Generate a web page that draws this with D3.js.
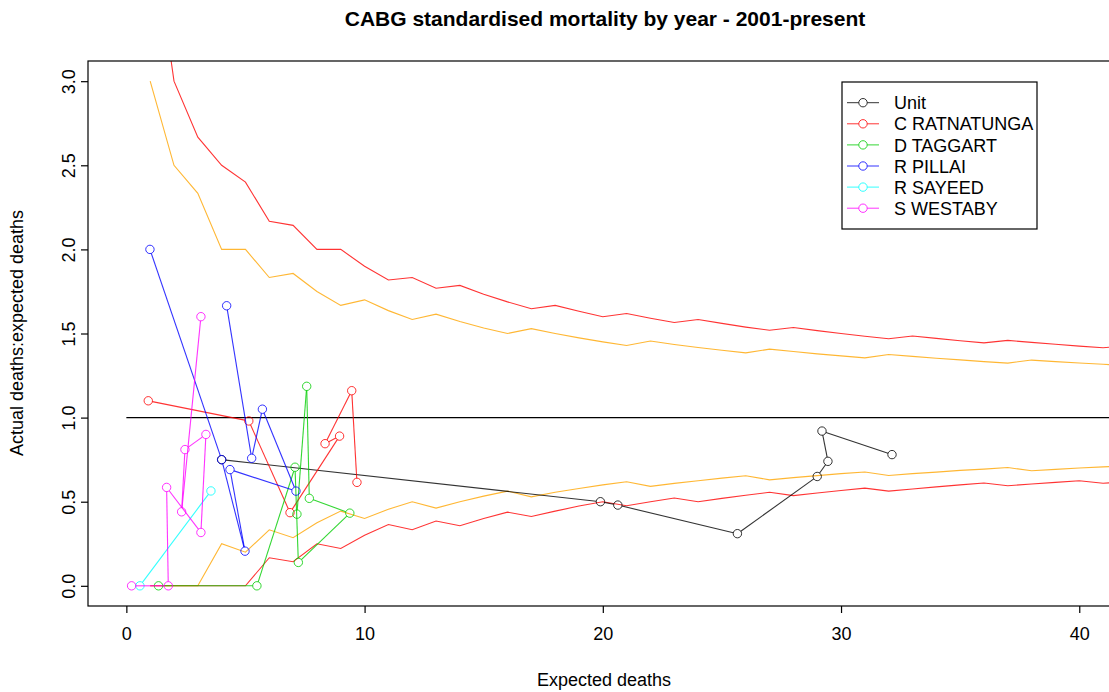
<!DOCTYPE html>
<html>
<head>
<meta charset="utf-8">
<script src="https://cdn.jsdelivr.net/npm/d3@7"></script>
<style>
  body { margin: 0; background: #fff; }
  text { font-family: "Liberation Sans", Arial, Helvetica, sans-serif; fill: #000; }
</style>
</head>
<body>
<div id="chart"></div>
<script>
// control limits, evaluated at whole numbers of expected deaths
const limitX = [1, 2, 3, 4, 5, 6, 7, 8, 9, 10, 11, 12, 13, 14, 15, 16, 17, 18, 19, 20, 21,
  22, 23, 24, 25, 26, 27, 28, 29, 30, 31, 32, 33, 34, 35, 36, 37, 38, 39, 40, 41, 42];
const upper99 = [4.0, 3.0, 2.667, 2.5, 2.4, 2.167, 2.143, 2.0, 2.0, 1.9, 1.818, 1.833, 1.769, 1.786,
  1.733, 1.688, 1.647, 1.667, 1.632, 1.6, 1.619, 1.591, 1.565, 1.583, 1.56, 1.538, 1.519, 1.536,
  1.517, 1.5, 1.484, 1.469, 1.485, 1.471, 1.457, 1.444, 1.459, 1.447, 1.436, 1.425, 1.415, 1.429];
const upper95 = [3.0, 2.5, 2.333, 2.0, 2.0, 1.833, 1.857, 1.75, 1.667, 1.7, 1.636, 1.583, 1.615, 1.571,
  1.533, 1.5, 1.529, 1.5, 1.474, 1.45, 1.429, 1.455, 1.435, 1.417, 1.4, 1.385, 1.407, 1.393,
  1.379, 1.367, 1.355, 1.375, 1.364, 1.353, 1.343, 1.333, 1.324, 1.342, 1.333, 1.325, 1.317, 1.310];
const lower95 = [0, 0, 0, 0.25, 0.2, 0.333, 0.286, 0.375, 0.444, 0.4, 0.455, 0.5, 0.462, 0.5,
  0.533, 0.563, 0.529, 0.556, 0.579, 0.6, 0.619, 0.591, 0.609, 0.625, 0.64, 0.654, 0.630, 0.643,
  0.655, 0.667, 0.677, 0.656, 0.667, 0.676, 0.686, 0.694, 0.703, 0.684, 0.692, 0.7, 0.707, 0.714];
const lower99 = [0, 0, 0, 0, 0, 0.167, 0.143, 0.25, 0.222, 0.3, 0.364, 0.333, 0.385, 0.357,
  0.4, 0.438, 0.412, 0.444, 0.474, 0.5, 0.476, 0.5, 0.522, 0.5, 0.52, 0.538, 0.556, 0.536,
  0.552, 0.567, 0.581, 0.563, 0.576, 0.588, 0.6, 0.611, 0.595, 0.605, 0.615, 0.625, 0.610, 0.619];

// one point per year: expected deaths (x) and actual:expected ratio (y)
const unitExpected = [4.0, 19.9, 20.63, 25.65, 29.0, 29.45, 29.2, 32.14];
const unitRatio = [0.75, 0.50, 0.48, 0.31, 0.65, 0.74, 0.92, 0.78];
const ratnatungaExpected = [0.92, 5.14, 6.87, 8.95, 8.34, 9.46, 9.68];
const ratnatungaRatio = [1.10, 0.98, 0.435, 0.89, 0.845, 1.16, 0.615];
const taggartExpected = [1.35, 5.48, 7.08, 7.22, 9.38, 7.68, 7.57, 7.16];
const taggartRatio = [0, 0, 0.705, 0.139, 0.432, 0.52, 1.186, 0.426];
const pillaiExpected = [0.99, 4.0, 4.98, 4.35, 7.12, 5.71, 5.26, 4.21];
const pillaiRatio = [2.0, 0.75, 0.206, 0.691, 0.563, 1.05, 0.758, 1.665];
const sayeedExpected = [0.57, 3.55];
const sayeedRatio = [0, 0.564];
const westabyExpected = [0.22, 1.76, 1.69, 3.13, 3.34, 2.46, 2.32, 3.13];
const westabyRatio = [0, 0, 0.585, 0.317, 0.90, 0.81, 0.44, 1.6];

const seriesNames = ["Unit", "C RATNATUNGA", "D TAGGART", "R PILLAI", "R SAYEED", "S WESTABY"];
const seriesColours = ["#000000", "#ff0000", "#00cd00", "#0000ff", "#00ffff", "#ff00ff"];
const xTicks = [0, 10, 20, 30, 40];
const yTicks = [0, 0.5, 1, 1.5, 2, 2.5, 3];

const series = [
  [unitExpected, unitRatio],
  [ratnatungaExpected, ratnatungaRatio],
  [taggartExpected, taggartRatio],
  [pillaiExpected, pillaiRatio],
  [sayeedExpected, sayeedRatio],
  [westabyExpected, westabyRatio]
].map((s, i) => ({
  name: seriesNames[i],
  colour: seriesColours[i],
  points: s[0].map((v, j) => [v, s[1][j]])
}));

const width = 1109, height = 692;
const plot = {left: 88, right: 1125, top: 61, bottom: 606};
const r = 4.2;
const fontSize = 18;
const softness = 0.8;   // the scan renders the thin coloured lines a bit washed out

const svg = d3.select("#chart").append("svg")
  .attr("width", width)
  .attr("height", height);

const x = d3.scaleLinear().domain([-1.61, 41.92]).range([plot.left, plot.right]);
const y = d3.scaleLinear().domain([-0.12, 3.12]).range([plot.bottom, plot.top]);

svg.append("clipPath").attr("id", "plotclip")
  .append("rect")
  .attr("x", plot.left).attr("y", plot.top)
  .attr("width", plot.right - plot.left).attr("height", plot.bottom - plot.top);

const g = svg.append("g").attr("clip-path", "url(#plotclip)");

// limit lines
const limitLine = d3.line().x(d => x(d[0])).y(d => y(d[1]));
const limits = [[upper99, "#ff0000"], [upper95, "#ffa500"], [lower95, "#ffa500"], [lower99, "#ff0000"]];
limits.forEach(l => {
  g.append("path")
    .datum(limitX.map((v, i) => [v, l[0][i]]))
    .attr("d", limitLine)
    .attr("fill", "none")
    .attr("stroke", l[1])
    .attr("stroke-opacity", softness)
    .attr("stroke-width", 1.1);
});

// ratio of 1
g.append("line")
  .attr("x1", x(0)).attr("x2", x(limitX[limitX.length - 1]))
  .attr("y1", y(1)).attr("y2", y(1))
  .attr("stroke", "#000")
  .attr("stroke-width", 1.2);

// R style type="b": segments stop short of the circles
function gappedSegments(pts) {
  let segs = [];
  for (let i = 1; i < pts.length; i++) {
    let x1 = x(pts[i - 1][0]), y1 = y(pts[i - 1][1]);
    let x2 = x(pts[i][0]), y2 = y(pts[i][1]);
    let len = Math.hypot(x2 - x1, y2 - y1);
    if (len <= 2 * r) continue;
    let ux = (x2 - x1) / len, uy = (y2 - y1) / len;
    segs.push([x1 + ux * r, y1 + uy * r, x2 - ux * r, y2 - uy * r]);
  }
  return segs;
}

series.forEach(s => {
  const sg = g.append("g").attr("stroke-opacity", softness);
  sg.selectAll("line")
    .data(gappedSegments(s.points))
    .enter().append("line")
    .attr("x1", d => d[0]).attr("y1", d => d[1])
    .attr("x2", d => d[2]).attr("y2", d => d[3])
    .attr("stroke", s.colour)
    .attr("stroke-width", 1.1);
  sg.selectAll("circle")
    .data(s.points)
    .enter().append("circle")
    .attr("cx", d => x(d[0]))
    .attr("cy", d => y(d[1]))
    .attr("r", r)
    .attr("fill", "none")
    .attr("stroke", s.colour)
    .attr("stroke-width", 1);
});

// box
svg.append("rect")
  .attr("x", plot.left).attr("y", plot.top)
  .attr("width", plot.right - plot.left).attr("height", plot.bottom - plot.top)
  .attr("fill", "none")
  .attr("stroke", "#000")
  .attr("stroke-width", 1.2);

// axes
const xAxis = svg.append("g")
  .attr("transform", "translate(0," + plot.bottom + ")")
  .call(d3.axisBottom(x).tickValues(xTicks).tickSize(7).tickPadding(14).tickFormat(d3.format("d")));
const yAxis = svg.append("g")
  .attr("transform", "translate(" + plot.left + ",0)")
  .call(d3.axisLeft(y).tickValues(yTicks).tickSize(7).tickFormat(d3.format(".1f")));

[xAxis, yAxis].forEach(a => {
  a.select(".domain").remove();
  a.selectAll(".tick line").attr("stroke", "#000").attr("stroke-width", 1.2);
  a.selectAll("text")
    .attr("font-size", fontSize)
    .attr("font-family", "Liberation Sans, Arial, sans-serif")
    .attr("fill", "#222");
});
yAxis.selectAll("text")
  .attr("x", null).attr("dy", null)
  .attr("text-anchor", "middle")
  .attr("transform", "translate(-13,0) rotate(-90)");

// titles
svg.append("text")
  .attr("x", 605).attr("y", 26)
  .attr("text-anchor", "middle")
  .attr("font-size", 21)
  .attr("font-weight", "bold")
  .text("CABG standardised mortality by year - 2001-present");

svg.append("text")
  .attr("x", 604).attr("y", 686)
  .attr("text-anchor", "middle")
  .attr("font-size", fontSize)
  .attr("fill", "#222")
  .text("Expected deaths");

svg.append("text")
  .attr("transform", "translate(23,333) rotate(-90)")
  .attr("text-anchor", "middle")
  .attr("font-size", fontSize)
  .attr("fill", "#222")
  .text("Actual deaths:expected deaths");

// legend
const legend = svg.append("g").attr("transform", "translate(842,82)");
legend.append("rect")
  .attr("width", 195).attr("height", 147)
  .attr("fill", "#fff")
  .attr("stroke", "#000")
  .attr("stroke-width", 1.2);

const item = legend.selectAll(".item")
  .data(series)
  .enter().append("g")
  .attr("class", "item")
  .attr("stroke-opacity", softness)
  .attr("transform", (d, i) => "translate(0," + (20.7 + i * 21.1) + ")");
item.append("line")
  .attr("x1", 5).attr("x2", 21 - r)
  .attr("stroke", d => d.colour);
item.append("line")
  .attr("x1", 21 + r).attr("x2", 37)
  .attr("stroke", d => d.colour);
item.append("circle")
  .attr("cx", 21).attr("r", r)
  .attr("fill", "none")
  .attr("stroke", d => d.colour);
item.append("text")
  .attr("x", 52).attr("y", 6.6)
  .attr("font-size", fontSize)
  .attr("fill", "#222")
  .text(d => d.name);
</script>
</body>
</html>
